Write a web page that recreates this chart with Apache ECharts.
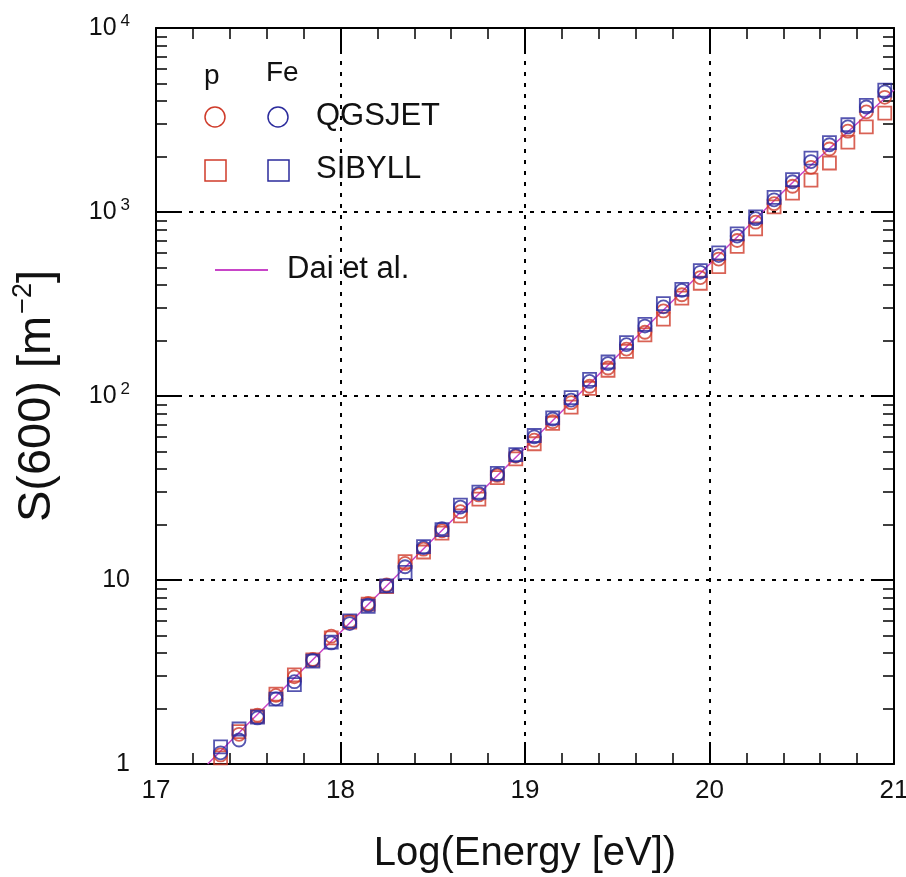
<!DOCTYPE html>
<html>
<head>
<meta charset="utf-8">
<script src="https://cdn.jsdelivr.net/npm/echarts@6/dist/echarts.min.js"></script>
<style>html,body{margin:0;padding:0;background:#fff;}#c{width:906px;height:877px;}</style>
</head>
<body>
<div id="c"></div>
<script>
// Log(Energy [eV]) positions of simulated points
const energy = [17.35,17.45,17.55,17.65,17.75,17.85,17.95,18.05,18.15,18.25,18.35,18.45,18.55,18.65,18.75,18.85,18.95,19.05,19.15,19.25,19.35,19.45,19.55,19.65,19.75,19.85,19.95,20.05,20.15,20.25,20.35,20.45,20.55,20.65,20.75,20.85,20.95];
// S(600) values
const pQGSJET  = [1.12,1.45,1.84,2.36,2.98,3.70,4.95,5.95,7.45,9.4,12.3,14.7,18.5,23.5,29.0,37.0,47.0,57.5,72.5,92,113,142,180,222,290,355,440,555,700,880,1110,1380,1750,2200,2750,3500,4200];
const pSIBYLL  = [1.08,1.50,1.82,2.40,3.05,3.68,4.85,5.90,7.40,9.2,12.6,14.2,18.0,22.3,27.5,36.0,45.5,55.0,71.0,87,110,138,175,215,262,340,410,505,650,810,1065,1268,1492,1846,2400,2900,3450];
const FeQGSJET = [1.15,1.35,1.78,2.26,2.80,3.66,4.55,5.80,7.30,9.3,11.8,15.0,19.0,24.9,29.5,37.5,47.5,60,75,95,120,150,190,240,305,375,470,580,740,920,1165,1460,1880,2320,2900,3720,4500];
const FeSIBYLL = [1.24,1.55,1.80,2.25,2.70,3.62,4.60,6.00,7.20,9.3,11.0,15.2,18.8,25.5,30,38,48,61,76,98,123,153,195,245,318,380,480,600,760,940,1200,1500,1960,2380,2980,3800,4600];
// Dai et al. parametrisation
const daiX = [17.28,17.5,18.0,18.5,19.0,19.5,20.0,20.5,21.0];
const daiY = [1.0,1.66,5.2,16.6,52,165,520,1620,4600];
// ticks
const xTicks = [17,18,19,20,21];
const yMajor = [1,10,100,1000,10000];
const yMinor = [];
[1,10,100,1000].forEach(d => { for (let k=2;k<=9;k++) yMinor.push(k*d); });

const RED = '#cf3b2a', BLUE = '#2b2b9c', MAG = '#c845c8';
const FONT = 'Liberation Sans, Arial, sans-serif';

const chart = echarts.init(document.getElementById('c'), null, {renderer:'canvas'});

function pairs(xs, ys){ return xs.map((x,i)=>[x, ys[i]]); }

const tickStyle = {color:'#000', width:2};
const minorStyle = {color:'#000', width:1.5};
const splitDot = {show:true, lineStyle:{color:'#000', width:2, type:[4,7]}};
const MS = 13;

const option = {
  backgroundColor:'#fff',
  animation:false,
  grid:{left:156, right:12, top:28, bottom:113, outerBoundsMode:'none', containLabel:false},
  xAxis:[
    {type:'value', min:17, max:21, interval:1, position:'bottom',
     axisLine:{show:true, onZero:false, lineStyle:{color:'#000', width:2}},
     axisTick:{show:true, inside:true, length:22, lineStyle:tickStyle, customValues:xTicks},
     minorTick:{show:true, splitNumber:5, length:11, lineStyle:minorStyle},
     axisLabel:{fontSize:26, color:'#111', fontFamily:FONT, margin:14, customValues:xTicks},
     splitLine:splitDot,
     name:'Log(Energy [eV])', nameLocation:'middle', nameGap:70,
     nameTextStyle:{fontSize:40, color:'#111', fontFamily:FONT}},
    {type:'value', min:17, max:21, interval:1, position:'top',
     axisLine:{show:true, onZero:false, lineStyle:{color:'#000', width:2}},
     axisTick:{show:true, inside:true, length:22, lineStyle:tickStyle},
     minorTick:{show:true, splitNumber:5, length:11, lineStyle:minorStyle},
     axisLabel:{show:false}, splitLine:{show:false}}
  ],
  yAxis:[
    {type:'log', logBase:10, min:1, max:10000, interval:1, position:'left',
     axisLine:{show:true, onZero:false, lineStyle:{color:'#000', width:2}},
     axisTick:{show:true, inside:true, length:22, lineStyle:tickStyle},
     axisLabel:{fontSize:25, color:'#111', fontFamily:FONT, margin:26,
       formatter:function(v){
         if (Math.abs(v-1)<1e-9) return '1';
         if (Math.abs(v-10)<1e-9) return '10';
         return '10{s|' + Math.round(Math.log10(v)) + '}';
       },
       rich:{s:{fontSize:17, fontFamily:FONT, color:'#111', verticalAlign:'bottom', padding:[0,0,14,4]}}},
     splitLine:splitDot,
     name:'{a|S(600) [m}{s|\u22122}{a|]}', nameLocation:'middle', nameGap:92, nameRotate:90,
     nameTextStyle:{rich:{a:{fontSize:47, color:'#111', fontFamily:FONT},
                          s:{fontSize:27, color:'#111', fontFamily:FONT, verticalAlign:'bottom', padding:[0,0,27,2]}}}},
    {type:'value', min:0, max:4, position:'left',
     axisLine:{show:false},
     axisTick:{show:true, inside:true, length:11, lineStyle:minorStyle, customValues:yMinor.map(v=>Math.log10(v))},
     axisLabel:{show:false}, splitLine:{show:false}},
    {type:'log', logBase:10, min:1, max:10000, interval:1, position:'right',
     axisLine:{show:true, onZero:false, lineStyle:{color:'#000', width:2}},
     axisTick:{show:true, inside:true, length:22, lineStyle:tickStyle},
     axisLabel:{show:false}, splitLine:{show:false}},
    {type:'value', min:0, max:4, position:'right',
     axisLine:{show:false},
     axisTick:{show:true, inside:true, length:11, lineStyle:minorStyle, customValues:yMinor.map(v=>Math.log10(v))},
     axisLabel:{show:false}, splitLine:{show:false}}
  ],
  legend:{show:false},
  series:[
    {name:'Dai et al.', type:'line', data:pairs(daiX, daiY), showSymbol:false, symbol:'none',
     lineStyle:{color:MAG, width:1.5}, z:1},
    {name:'p QGSJET', type:'scatter', data:pairs(energy,pQGSJET), symbol:'circle', symbolSize:MS,
     itemStyle:{color:'rgba(0,0,0,0)', borderColor:RED, borderWidth:1.8}, z:3},
    {name:'p SIBYLL', type:'scatter', data:pairs(energy,pSIBYLL), symbol:'rect', symbolSize:MS,
     itemStyle:{color:'rgba(0,0,0,0)', borderColor:RED, borderWidth:1.8}, z:3},
    {name:'Fe QGSJET', type:'scatter', data:pairs(energy,FeQGSJET), symbol:'circle', symbolSize:MS,
     itemStyle:{color:'rgba(0,0,0,0)', borderColor:BLUE, borderWidth:1.8}, z:4},
    {name:'Fe SIBYLL', type:'scatter', data:pairs(energy,FeSIBYLL), symbol:'rect', symbolSize:MS,
     itemStyle:{color:'rgba(0,0,0,0)', borderColor:BLUE, borderWidth:1.8}, z:4}
  ],
  graphic:[
    {type:'text', left:204, top:62, style:{text:'p', fontSize:28, fontFamily:FONT, fill:'#111'}},
    {type:'text', left:266, top:59, style:{text:'Fe', fontSize:28, fontFamily:FONT, fill:'#111'}},
    {type:'circle', shape:{cx:215, cy:117, r:10}, style:{fill:'none', stroke:RED, lineWidth:1.5}},
    {type:'circle', shape:{cx:278, cy:117, r:10}, style:{fill:'none', stroke:BLUE, lineWidth:1.5}},
    {type:'rect', shape:{x:205, y:160, width:21, height:21}, style:{fill:'none', stroke:RED, lineWidth:1.5}},
    {type:'rect', shape:{x:268, y:160, width:21, height:21}, style:{fill:'none', stroke:BLUE, lineWidth:1.5}},
    {type:'text', left:316, top:101, style:{text:'QGSJET', fontSize:31, fontFamily:FONT, fill:'#111'}},
    {type:'text', left:316, top:154, style:{text:'SIBYLL', fontSize:31, fontFamily:FONT, fill:'#111'}},
    {type:'line', shape:{x1:215, y1:270, x2:268, y2:270}, style:{stroke:MAG, lineWidth:2}},
    {type:'text', left:287, top:254, style:{text:'Dai et al.', fontSize:31, fontFamily:FONT, fill:'#111'}}
  ]
};
chart.setOption(option);
</script>
</body>
</html>
